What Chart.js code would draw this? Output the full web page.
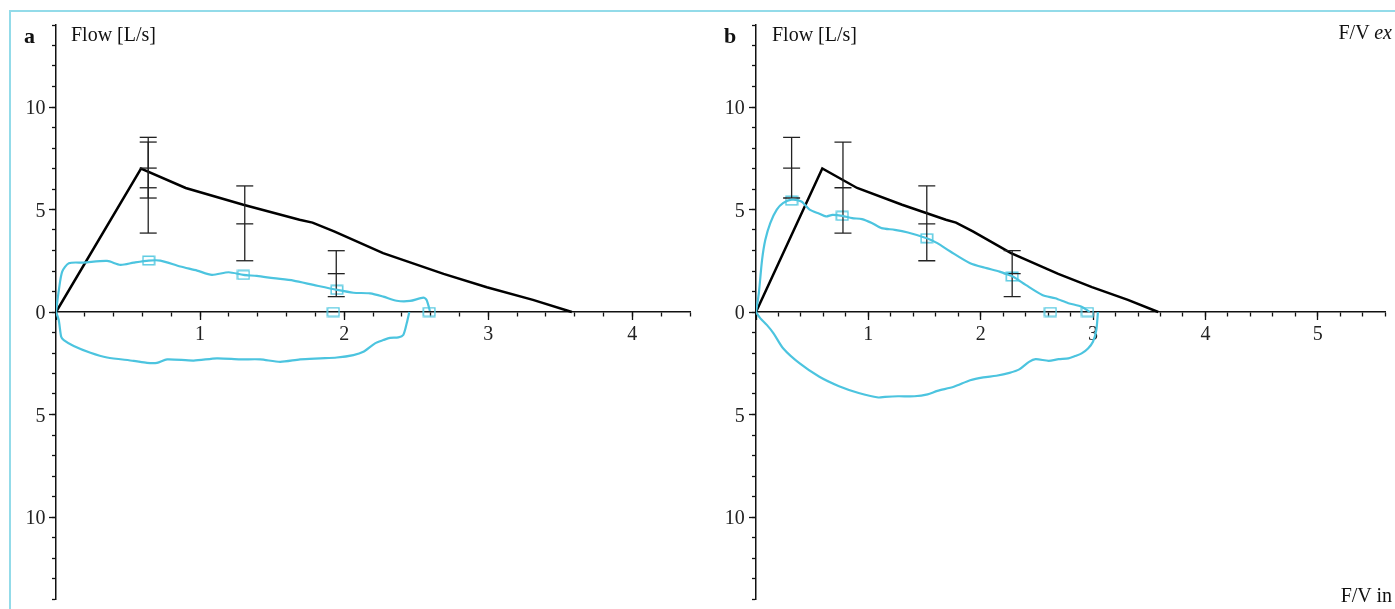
<!DOCTYPE html>
<html><head><meta charset="utf-8">
<script src="https://cdn.jsdelivr.net/npm/chart.js@4/dist/chart.umd.min.js"></script>
<style>
html,body{margin:0;padding:0;background:#fff;width:1395px;height:609px;overflow:hidden;position:relative;font-family:"Liberation Serif",serif;color:#111}
#frame{position:absolute;left:9px;top:10px;width:1400px;height:620px;border-top:2px solid #93dbe9;border-left:2px solid #93dbe9;}
canvas{position:absolute;top:0}
#ca{left:0}
#cb{left:700px}
.lbl{position:absolute;font-size:20px;line-height:20px;white-space:nowrap}
.pan{font-weight:bold;font-size:22px}
</style></head><body>
<div id="frame"></div>
<canvas id="ca" width="700" height="614" style="width:700px;height:614px"></canvas>
<canvas id="cb" width="695" height="614" style="width:695px;height:614px"></canvas>
<div class="lbl pan" style="left:24px;top:26px">a</div>
<div class="lbl" style="left:71px;top:24px">Flow [L/s]</div>
<div class="lbl pan" style="left:724px;top:26px">b</div>
<div class="lbl" style="left:772px;top:24px">Flow [L/s]</div>
<div class="lbl" style="right:3px;top:22px">F/V <i>ex</i></div>
<div class="lbl" style="right:3px;top:585px">F/V in</div>
<script>
// ---------- data ----------
// predicted flow-volume curve (black), same in both panels
const predVol  = [0, 0.59, 0.90, 1.30, 1.69, 1.78, 1.93, 2.27, 2.69, 2.99, 3.31, 3.58];
const predFlow = [0, 7.00, 6.05, 5.23, 4.50, 4.36, 3.93, 2.87, 1.86, 1.21, 0.59, 0];

// reference error bars (high / mean / low)
const errHigh = [8.52, 8.29, 6.15, 2.99];
const errMean = [7.02, 6.06, 4.30, 1.87];
const errLow  = [5.56, 3.85, 2.50, 0.75];
const errVolA = [0.64, 0.64, 1.31, 1.945];
const errVolB = [0.317, 0.774, 1.52, 2.28];

// panel a measured loop (cyan)
const exVolA  = [0, 0.02, 0.043, 0.089, 0.193, 0.355, 0.447, 0.539, 0.643, 0.724, 0.863, 0.979, 1.082, 1.198, 1.301, 1.394, 1.509, 1.648, 1.787, 1.949, 2.064, 2.18, 2.272, 2.364, 2.457, 2.549, 2.572, 2.595];
const exFlowA = [0, 1.08, 1.97, 2.38, 2.41, 2.49, 2.30, 2.41, 2.51, 2.51, 2.22, 2.02, 1.81, 1.94, 1.81, 1.76, 1.65, 1.53, 1.32, 1.08, 0.94, 0.91, 0.75, 0.55, 0.54, 0.70, 0.59, 0.05];
const inVolA  = [2.452, 2.434, 2.41, 2.376, 2.318, 2.272, 2.214, 2.133, 2.064, 1.949, 1.833, 1.694, 1.556, 1.417, 1.278, 1.117, 0.955, 0.771, 0.701, 0.632, 0.539, 0.355, 0.239, 0.123, 0.054, 0.036, 0.019, 0];
const inFlowA = [0, -0.55, -1.12, -1.24, -1.26, -1.37, -1.53, -1.94, -2.10, -2.22, -2.26, -2.31, -2.43, -2.31, -2.31, -2.26, -2.37, -2.31, -2.48, -2.48, -2.38, -2.22, -1.99, -1.66, -1.37, -1.21, -0.39, 0];
const mkVolA  = [0.643, 1.301, 1.949, 1.925, 2.59];
const mkFlowA = [2.51, 1.81, 1.08, 0, 0];

// panel b measured loop (cyan)
const exVolB  = [0, 0.025, 0.054, 0.083, 0.127, 0.185, 0.243, 0.317, 0.404, 0.477, 0.564, 0.623, 0.681, 0.768, 0.856, 0.943, 1.031, 1.118, 1.235, 1.352, 1.52, 1.614, 1.73, 1.906, 2.052, 2.168, 2.285, 2.40, 2.548, 2.664, 2.78, 2.898, 2.97];
const exFlowB = [0, 0.91, 2.54, 3.52, 4.34, 4.99, 5.32, 5.48, 5.39, 4.99, 4.79, 4.66, 4.74, 4.69, 4.58, 4.53, 4.34, 4.09, 4.01, 3.88, 3.60, 3.36, 2.95, 2.38, 2.14, 1.97, 1.73, 1.32, 0.83, 0.67, 0.43, 0.26, 0];
const inVolB  = [3.043, 3.029, 2.999, 2.955, 2.898, 2.839, 2.78, 2.693, 2.605, 2.489, 2.43, 2.343, 2.256, 2.139, 2.023, 1.906, 1.76, 1.614, 1.527, 1.41, 1.264, 1.148, 1.089, 0.914, 0.739, 0.564, 0.389, 0.243, 0.156, 0.098, 0.039, 0];
const inFlowB = [0, -0.88, -1.45, -1.78, -2.02, -2.15, -2.26, -2.30, -2.38, -2.30, -2.43, -2.80, -2.97, -3.11, -3.19, -3.33, -3.65, -3.85, -4.02, -4.11, -4.11, -4.14, -4.17, -3.95, -3.62, -3.16, -2.51, -1.78, -1.04, -0.64, -0.31, 0];
const mkVolB  = [0.317, 0.768, 1.52, 2.28, 2.62, 2.95];
const mkFlowB = [5.43, 4.69, 3.60, 1.73, 0, 0];

const yTickValues = [-10, -5, 0, 5, 10];

// ---------- rendering ----------
const FONT = "'Liberation Serif', serif";
const CYAN = '#4cc4df';
const INK = '#111';
const zip = (xs, ys) => xs.map((x, i) => ({x, y: ys[i]}));

function rectMarker() {
  const c = document.createElement('canvas');
  c.width = 14; c.height = 11;
  const g = c.getContext('2d');
  g.strokeStyle = '#5ccbe2'; g.lineWidth = 1.5;
  g.strokeRect(1.25, 1.25, 11.5, 8.5);
  return c;
}

function scales(xMax, labelOffset) {
  const tickFont = {family: FONT, size: 20};
  const gridBase = {drawOnChartArea: false, drawTicks: true, color: INK, tickWidth: 1.3, tickColor: INK};
  return {
    x: {type: 'linear', min: 0, max: xMax, position: {y: 0},
        ticks: {stepSize: 0.2, display: false, autoSkip: false},
        grid: Object.assign({}, gridBase, {tickLength: 4}),
        border: {display: true, color: INK, width: 1.5}},
    xMaj: {type: 'linear', min: 0, max: xMax, position: {y: 0},
        ticks: {stepSize: 1, includeBounds: false, autoSkip: false, maxRotation: 0, font: tickFont, color: '#222', padding: 3,
                callback: v => v === 0 ? '' : String(v)},
        grid: Object.assign({}, gridBase, {tickLength: 8}),
        border: {display: false}},
    y: {type: 'linear', min: -14, max: 14, position: {x: 0},
        ticks: {stepSize: 1, display: false, autoSkip: false},
        grid: Object.assign({}, gridBase, {tickLength: 3}),
        border: {display: true, color: INK, width: 1.5}},
    yMaj: {type: 'linear', min: -14, max: 14, position: {x: 0},
        ticks: {stepSize: 5, includeBounds: false, autoSkip: false, display: false},
        grid: Object.assign({}, gridBase, {tickLength: 7}),
        border: {display: false}},
    yLab: {type: 'linear', min: -14, max: 14, position: {x: -labelOffset},
        ticks: {stepSize: 5, includeBounds: false, autoSkip: false, font: tickFont, color: '#222', padding: 3, labelOffset: 2,
                callback: v => yTickValues.includes(v) ? String(Math.abs(v)) : ''},
        grid: {display: false},
        border: {display: false}}
  };
}

function errorBarSets(vols) {
  return vols.map((v, i) => ({
    data: [{x: v, y: errLow[i]}, {x: v, y: errMean[i]}, {x: v, y: errHigh[i]}],
    showLine: true, borderColor: '#222', borderWidth: 1.3,
    pointStyle: 'line', pointRadius: 8.5, pointBorderWidth: 1.3, pointBorderColor: '#222',
    pointHoverRadius: 8.5
  }));
}

function panel(id, xMax, padLeft, padRight, labelOffset, exV, exF, inV, inF, mkV, mkF, errV) {
  const marker = rectMarker();
  const lineCommon = {pointRadius: 0, fill: false, tension: 0.25};
  const datasets = [
    Object.assign({data: zip(exV, exF), borderColor: CYAN, borderWidth: 2.2}, lineCommon),
    Object.assign({data: zip(inV, inF), borderColor: CYAN, borderWidth: 2.2}, lineCommon),
    ...errorBarSets(errV),
    {data: zip(mkV, mkF), showLine: false, pointStyle: marker, pointRadius: 6},
    {data: zip(predVol, predFlow), borderColor: '#000', borderWidth: 2.5, pointRadius: 0, tension: 0}
  ];
  return new Chart(document.getElementById(id), {
    type: 'line',
    data: {datasets},
    options: {
      responsive: false, animation: false, events: [],
      layout: {padding: {left: padLeft, right: padRight, top: 25, bottom: 15}},
      plugins: {legend: {display: false}, tooltip: {enabled: false}},
      scales: scales(xMax, labelOffset)
    }
  });
}

panel('ca', 4.4, 56, 10, 0.073, exVolA, exFlowA, inVolA, inFlowA, mkVolA, mkFlowA, errVolA);
panel('cb', 5.6, 56, 0, 0.1, exVolB, exFlowB, inVolB, inFlowB, mkVolB, mkFlowB, errVolB);
</script>
</body></html>
